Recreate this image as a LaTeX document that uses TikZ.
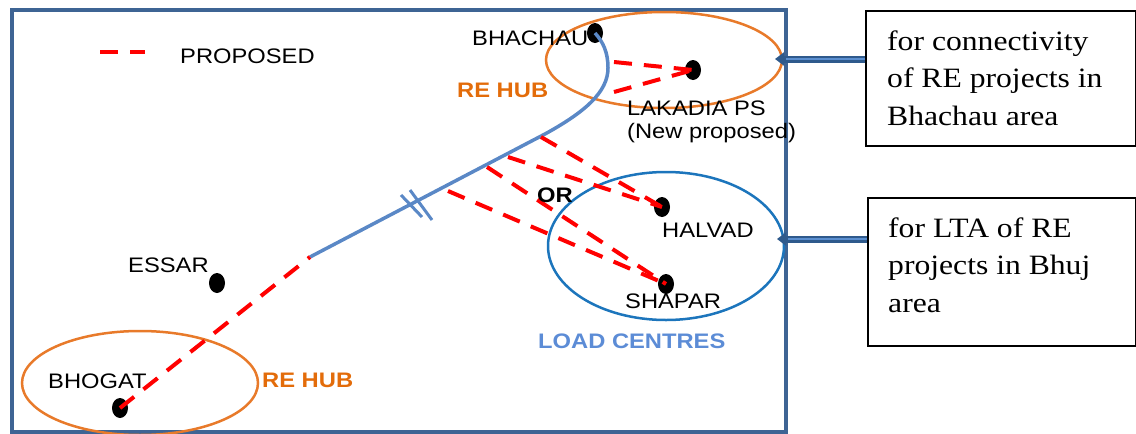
\documentclass[tikz,border=0pt]{standalone}
\usepackage{fontspec}
\setmainfont{Liberation Serif}
\setsansfont{Liberation Sans}
\usetikzlibrary{shapes.geometric,arrows.meta}
\definecolor{framec}{HTML}{3E6494}
\definecolor{hubor}{HTML}{E87A2A}
\definecolor{hubtxt}{HTML}{E36C0A}
\definecolor{loadblue}{HTML}{1C75BC}
\definecolor{lineblue}{HTML}{5A88C6}
\definecolor{lctxt}{HTML}{5C8CD6}
\definecolor{arrdark}{HTML}{2F5A8C}
\definecolor{arrlight}{HTML}{5B8FD0}
\newcommand{\wide}[1]{\scalebox{1.13}[1]{#1}}
\tikzset{
  lbl/.style={font=\sffamily\fontsize{21}{25}\selectfont, inner sep=0, anchor=base west},
  blbl/.style={font=\sffamily\bfseries\fontsize{21}{25}\selectfont, inner sep=0, anchor=base west},
  station/.style={ellipse, fill=black, minimum width=16pt, minimum height=20pt, inner sep=0},
  prop/.style={red, line width=4pt, dash pattern=on 18pt off 12pt},
  hub/.style={ellipse, draw=hubor, line width=2.5pt, inner sep=0},
  centre/.style={ellipse, draw=loadblue, line width=2.5pt, inner sep=0},
  existing/.style={lineblue, line width=3.5pt},
  notebox/.style={draw=black, line width=2pt, anchor=north west, inner sep=0},
  boxtxt/.style={font=\rmfamily\fontsize{28}{37}\selectfont, inner sep=0, anchor=base west},
  outerarrow/.style={arrdark, line width=7pt, -{Triangle[length=9pt,width=13pt]}},
  innerarrow/.style={arrlight, line width=2.5pt},
}
\begin{document}
\begin{tikzpicture}[x=1pt,y=-1pt]
\useasboundingbox (0,0) rectangle (1136,434);

% outer map frame
\draw[framec, line width=3.5pt] (12,10) rectangle (786,432);

% legend
\coordinate (lg1) at (100,52);
\coordinate (lg2) at (145,52);
\draw[prop] (lg1) -- (lg2);
\node[lbl] (lgtext) at (180,63) {\wide{PROPOSED}};

% hub and load-centre regions
\node[hub, minimum width=236pt, minimum height=96pt] (hubN) at (664,60) {};
\node[hub, minimum width=236pt, minimum height=104pt] (hubS) at (140,383) {};
\node[centre, minimum width=236pt, minimum height=148pt] (lc) at (666,246) {};

% stations
\node[station] (bhachau) at (595,33) {};
\node[station] (lakadia) at (693,70) {};
\node[station] (essar) at (217,283) {};
\node[station] (halvad) at (662,207) {};
\node[station] (shapar) at (666,284) {};
\node[station] (bhogat) at (120,408) {};

% existing line: straight run, then bending up into Bhachau
\coordinate (j0) at (310,257);
\coordinate (k) at (545,134);
\coordinate (bend) at (608,68);
\draw[existing] (j0) -- (k) .. controls (585,112) and (608,92) .. (bend)
  .. controls (608,52) and (603,42) .. (bhachau.center);
% crossing marks
\draw[existing, line width=3pt] (401,195) -- (422,217);
\draw[existing, line width=3pt] (410,190) -- (432,220);

% proposed links
\draw[prop] (bhogat.center) -- (j0);
\coordinate (l1) at (614,62);
\coordinate (l2) at (614,92);
\draw[prop] (l1) -- (lakadia.center);
\draw[prop] (l2) -- (lakadia.center);
\coordinate (j1) at (541,137);
\coordinate (j2) at (508,157);
\coordinate (j3) at (487,167);
\coordinate (j4) at (448,191);
\draw[prop] (j1) -- (halvad.center);
\draw[prop] (j2) -- (halvad.center);
\draw[prop] (j3) -- (shapar.center);
\draw[prop] (j4) -- (shapar.center);

% labels
\node[lbl] (tbhachau) at (472,45) {\wide{BHACHAU}};
\node[blbl, text=hubtxt] (thubN) at (457,97) {\wide{RE HUB}};
\node[lbl] (tlak1) at (627,115) {\wide{LAKADIA PS}};
\node[lbl] (tlak2) at (627,138) {\wide{(New proposed)}};
\node[blbl] (tor) at (537,202) {\wide{OR}};
\node[lbl] (thalvad) at (662,237) {\wide{HALVAD}};
\node[lbl] (tshapar) at (625,308) {\wide{SHAPAR}};
\node[blbl, text=lctxt] (tlc) at (538,348) {\wide{LOAD CENTRES}};
\node[lbl] (tessar) at (128,272) {\wide{ESSAR}};
\node[lbl] (tbhogat) at (48,388) {\wide{BHOGAT}};
\node[blbl, text=hubtxt] (thubS) at (262,387) {\wide{RE HUB}};

% explanatory notes
\node[notebox, minimum width=270pt, minimum height=135pt] (note1) at (865,10) {};
\node[boxtxt] (n1a) at (887,50) {\wide{for connectivity}};
\node[boxtxt] (n1b) at (887,87) {\wide{of RE projects in}};
\node[boxtxt] (n1c) at (887,125) {\wide{Bhachau area}};
\node[notebox, minimum width=268pt, minimum height=148pt] (note2) at (867,197) {};
\node[boxtxt] (n2a) at (888,237) {\wide{for LTA of RE}};
\node[boxtxt] (n2b) at (888,274) {\wide{projects in Bhuj}};
\node[boxtxt] (n2c) at (888,312) {\wide{area}};

% pointers from notes
\coordinate (p1) at (775,59);
\coordinate (p1i) at (786,59);
\coordinate (p2) at (777,239);
\coordinate (p2i) at (788,239);
\draw[outerarrow] (note1.west |- p1) -- (p1);
\draw[innerarrow] (note1.west |- p1) -- (p1i);
\draw[outerarrow] (note2.west |- p2) -- (p2);
\draw[innerarrow] (note2.west |- p2) -- (p2i);
\end{tikzpicture}
\end{document}
